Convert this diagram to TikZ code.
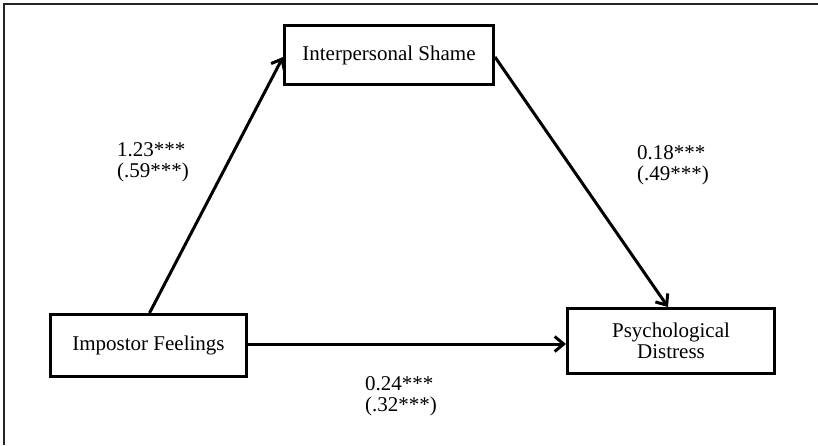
\documentclass[tikz,border=0pt]{standalone}
\usepackage{fontspec}
\setmainfont{Liberation Serif}
\usetikzlibrary{arrows.meta}
\begin{document}
\begin{tikzpicture}[x=1pt,y=-1pt,
  box/.style={draw, line width=3.4pt, align=center, inner sep=0pt,
    font=\fontsize{21}{21}\selectfont},
  conn/.style={line width=3pt, -{Straight Barb[length=9pt,width=15pt]}},
  lbl/.style={font=\fontsize{21}{21}\selectfont, align=left, anchor=north west, inner sep=0pt},
  frame/.style={draw=black!85, line width=1.5pt}]
\useasboundingbox (0,0) rectangle (818,445);
\coordinate (fbl) at (4.2,445);
\coordinate (ftl) at (4.2,3.8);
\coordinate (ftr) at (818,3.8);
\draw[frame] (fbl) -- (ftl) -- (ftr);

\node[box, minimum width=208.6pt, minimum height=58.6pt] (shame) at (389,55) {Interpersonal Shame};
\node[box, minimum width=195.6pt, minimum height=61.6pt] (imp) at (148.5,345.5) {Impostor Feelings};
\node[box, minimum width=206.6pt, minimum height=64.6pt] (dist) at (671,341) {Psychological\\Distress};

\draw[conn] ([xshift=1pt]imp.north) -- ([yshift=-2pt]shame.west);
\draw[conn] ([yshift=-2pt]shame.east) -- ([xshift=-3pt]dist.north);
\draw[conn] ([yshift=1.5pt]imp.east) -- ([yshift=1.5pt]imp.east -| dist.west);

\node[lbl] (l1) at (117,142) {1.23***\\(.59***)};
\node[lbl] (l2) at (637,145) {0.18***\\(.49***)};
\node[lbl] (l3) at (365,376) {0.24***\\(.32***)};
\end{tikzpicture}
\end{document}
